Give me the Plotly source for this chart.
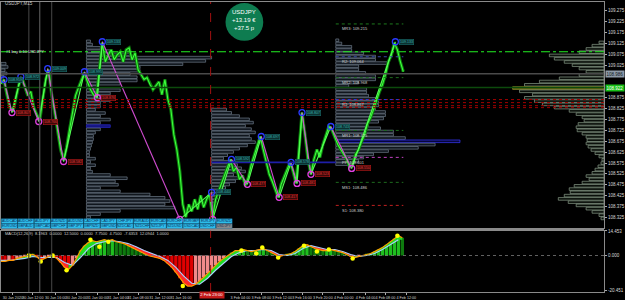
import plotly.graph_objects as go
import numpy as np

# ---------------- data ----------------
# price path (one value every 3 chart columns / bars)
price = [108.940, 108.959, 108.890, 108.830, 108.812, 108.876, 108.936, 108.968, 108.922, 108.885,
         108.904, 108.830, 108.798, 108.771, 108.867, 108.959, 109.004, 108.890, 108.812, 108.729,
         108.637, 108.587, 108.647, 108.729, 108.812, 108.885, 108.922, 108.959, 108.991, 108.949,
         108.913, 108.890, 108.876, 109.004, 109.128, 109.041, 109.073, 109.096, 109.050, 109.073,
         109.087, 109.041, 109.096, 109.105, 109.050, 109.082, 109.004, 108.982, 108.959, 108.968,
         108.936, 108.913, 108.931, 108.949, 108.890, 108.959, 108.867, 108.821, 108.706, 108.637,
         108.537, 108.385, 108.326, 108.385, 108.353, 108.408, 108.362, 108.426, 108.371, 108.408,
         108.431, 108.326, 108.408, 108.445, 108.477, 108.523, 108.555, 108.592, 108.537, 108.555,
         108.500, 108.518, 108.472, 108.509, 108.569, 108.615, 108.660, 108.697, 108.637, 108.582,
         108.523, 108.491, 108.454, 108.417, 108.477, 108.509, 108.546, 108.578, 108.537, 108.482,
         108.637, 108.807, 108.706, 108.592, 108.523, 108.592, 108.637, 108.601, 108.660, 108.706,
         108.743, 108.729, 108.692, 108.660, 108.637, 108.615, 108.592, 108.555, 108.569, 108.615,
         108.637, 108.674, 108.706, 108.757, 108.784, 108.821, 108.867, 108.904, 108.936, 108.982,
         109.041, 109.073, 109.128, 109.096, 109.041, 108.995]
price_bar = [3 * i for i in range(len(price))]

# zigzag swing points
zz_bar = [3, 11, 20, 38, 47, 63, 84, 97, 102, 180, 212, 213, 232, 248, 262, 280, 292, 298, 303, 312, 332, 353, 397]
zz_price = [108.959, 108.807, 108.972, 108.766, 109.009, 108.582, 108.995, 108.876, 109.133, 108.316,
            108.440, 108.316, 108.592, 108.477, 108.697, 108.417, 108.578, 108.481, 108.807, 108.523,
            108.743, 108.550, 109.133]

# volume profiles (level step in price, lengths in bars)
STEP = 0.015
prof1_x, prof1_top = 0, 109.032
prof1_len = [5, 7, 4, 6, 3]
prof2_x, prof2_top = 86, 109.135
prof2_len = [4, 6, 14, 24, 45, 126, 120, 97, 54, 54, 44, 51, 51, 34, 10, 34, 24, 24, 24, 14,
             14, 9, 19, 14, 24, 14, 24, 14, 9, 7, 7, 6, 5, 4, 3, 3, 9, 4, 9, 4,
             6, 24, 41, 29, 32, 14, 34, 64, 79, 84, 79, 89, 34, 14, 4]
prof3_x, prof3_top = 212, 108.821
prof3_len = [15, 20, 28, 38, 42, 34, 40, 44, 38, 40, 44, 36, 28, 22, 16, 12, 20, 26, 30, 34,
             22, 30, 24, 18, 14, 10, 8, 6, 5, 4, 3]
prof4_x, prof4_top = 337, 109.140
prof4_len = [3, 6, 16, 16, 28, 40, 40, 52, 23, 23, 30, 40, 40, 23, 13, 31, 31, 33, 40, 43,
             43, 40, 50, 50, 48, 43, 33, 45, 58, 58, 70, 125, 100, 83, 53, 38, 28, 23, 18]
profR_x, profR_top = 607, 109.130
profR_len = [5, 12, 18, 25, 55, 50, 40, 32, 25, 18, 25, 45, 65, 80, 92, 85, 72, 80, 70, 62,
             50, 35, 28, 22, 20, 26, 28, 27, 22, 18, 17, 18, 16, 13, 9, 5, 2, 3, 6, 9,
             12, 18, 15, 22, 30, 35, 34, 40, 46, 36, 28, 18, 12, 5, 3]

# pivot levels
piv_names = ["MR3", "R2", "MR2", "R1", "MR1", "PP", "MS1", "S1"]
piv_price = [109.215, 109.064, 108.968, 108.867, 108.725, 108.601, 108.486, 108.380]
piv_color = ["#1d7a1d", "#3a4aa8", "#1d6a1d", "#2a3ad0", "#1d6a1d", "#c040c0", "#1d6a1d", "#c02020"]

# MACD pane
macd = [-3.5, -3.5, -2.9, -2.9, -1.7, -1.2, -0.6, 0.0, 0.6, -0.6,
        -2.9, -1.7, -0.6, 0.0, -1.7, -4.1, -7.0, -8.1, -5.8, -1.7,
        2.9, 5.8, 7.6, 8.7, 8.1, 8.7, 9.3, 8.7, 9.3, 8.1,
        7.6, 7.0, 5.8, 4.7, 3.5, 2.3, 1.2, 0.0, -0.6, -1.2,
        -1.7, -2.9, -4.7, -7.0, -9.9, -13.4, -16.3, -18.0, -18.0, -16.9,
        -15.1, -12.8, -10.5, -8.1, -5.8, -3.5, -1.7, 0.0, 1.7, 2.9,
        2.9, 3.5, 2.9, 2.3, 2.9, 3.5, 4.1, 2.9, 1.7, 0.6,
        -0.6, 0.0, 0.6, 1.2, 2.3, 4.1, 5.8, 6.4, 5.2, 4.1,
        3.5, 2.9, 2.9, 3.5, 2.9, 2.3, 1.7, 0.6, -0.6, -1.2,
        -0.6, 0.0, 0.6, 1.2, 2.3, 3.5, 4.7, 6.4, 8.1, 9.9,
        11.6, 10.5]
macd_bar = [4 * i for i in range(len(macd))]
signal = [-2.9, -2.9, -2.3, -1.7, -0.6, -1.2, -1.2, -1.2, -4.1, -5.8,
          -1.2, 4.1, 7.0, 8.1, 8.7, 8.1, 7.0, 5.2, 2.9, 1.2,
          -0.6, -2.9, -7.0, -12.2, -16.3, -16.9, -13.4, -8.7, -4.7, -0.6,
          1.7, 2.9, 2.9, 3.5, 2.9, 0.6, 0.0, 1.2, 4.1, 5.8,
          4.7, 3.5, 3.5, 2.3, 0.6, -0.6, 0.0, 1.2, 3.5, 6.4,
          9.3]
signal_bar = [8 * i for i in range(len(signal))]
dot_bar = [28, 40, 52, 66, 90, 99, 108, 183, 242, 257, 263, 279, 305, 318, 330, 354, 399]
dot_val = [0.0, -3.5, 0.0, -8.7, 9.3, 5.2, 8.1, -18.0, 2.9, 1.2, 4.7, -1.2, 5.8, 2.3, 3.5, -1.7, 11.6]

# 108.975 and 108.925 sit under the price boxes on the axis
price_ticks = [109.275, 109.225, 109.175, 109.125, 109.075, 109.025, 108.875, 108.825,
               108.775, 108.725, 108.675, 108.625, 108.575, 108.525, 108.475, 108.425, 108.375, 108.325]
macd_ticks = [14.453, 0.0, -20.451]
macd_ticktext = ["14.453", "0.000", "-20.451"]
time_ticks = [12, 32, 55, 76, 97, 118, 138, 160, 181, 241, 262, 283, 303, 324, 345, 367, 387, 408]
time_labels = ["30 Jan 2020", "30 Jan 12:00", "30 Jan 16:00", "30 Jan 20:00", "31 Jan 00:00",
               "31 Jan 04:00", "31 Jan 08:00", "31 Jan 12:00", "31 Jan 16:00",
               "3 Feb 04:00", "3 Feb 08:00", "3 Feb 12:00", "3 Feb 16:00", "3 Feb 20:00",
               "4 Feb 00:00", "4 Feb 04:00", "4 Feb 08:00", "4 Feb 12:00"]
pairs = ["AUDCAD", "AUDCHF", "AUDJPY", "AUDNZD", "AUDUSD", "CADCHF", "CADJPY", "CHFJPY", "EURAUD",
         "EURCAD", "EURCHF", "EURGBP", "EURJPY", "EURNZD", "EURUSD", "GBPAUD", "GBPCAD", "GBPCHF",
         "GBPJPY", "GBPNZD", "GBPUSD", "NZDCAD", "NZDCHF", "NZDJPY", "NZDUSD", "USDCAD", "USDCHF", "USDJPY"]

# ---------------- geometry ----------------
W, H = 625, 300
MR, MT, MB = 18, 2, 7
PW = W - MR
PH = H - MT - MB
FONT = "Liberation Sans"


def pxx(px):
    return px / PW


def pxy(py):
    return (H - MB - py) / PH


fig = go.Figure()


def add_profile(x0, top, lengths, fill, line, right=False, poc=None, poc_fill=None, poc_line=None):
    levels = [top - i * STEP for i in range(len(lengths))]
    base = [x0 - L for L in lengths] if right else [x0] * len(lengths)
    fills = [fill] * len(lengths)
    lines = [line] * len(lengths)
    if poc is not None:
        fills[poc] = poc_fill
        lines[poc] = poc_line
    fig.add_trace(go.Bar(orientation="h", y=levels, x=lengths, base=base, width=STEP * 0.8,
                         marker=dict(color=fills, line=dict(color=lines, width=0.7)),
                         xaxis="x", yaxis="y", hoverinfo="skip"))


add_profile(prof1_x, prof1_top, prof1_len, "#10161d", "#6d7a88")
add_profile(prof2_x, prof2_top, prof2_len, "#10161d", "#6d7a88", poc=26, poc_fill="#14147a", poc_line="#2a2ad0")
add_profile(prof3_x, prof3_top, prof3_len, "#10161d", "#6d7a88")
add_profile(prof4_x, prof4_top, prof4_len, "#10161d", "#6d7a88", poc=31, poc_fill="#06063a", poc_line="#3a3aff")
add_profile(profR_x, profR_top, profR_len, "#0b100b", "#8a9c8a", right=True, poc=14,
            poc_fill="#5e5e0c", poc_line="#a0a030")

# price
fig.add_trace(go.Scatter(x=price_bar, y=price, mode="lines", line=dict(color="#0d7a0d", width=3.2),
                         xaxis="x", yaxis="y", hoverinfo="skip"))
fig.add_trace(go.Scatter(x=price_bar, y=price, mode="lines", line=dict(color="#3cff3c", width=1.1),
                         xaxis="x", yaxis="y", hoverinfo="skip"))

# zigzag legs
for i in range(len(zz_bar) - 1):
    up = zz_price[i + 1] > zz_price[i]
    fig.add_trace(go.Scatter(x=zz_bar[i:i + 2], y=zz_price[i:i + 2], mode="lines",
                             line=dict(color="#55ff55" if up else "#d04cd0", width=1.1),
                             xaxis="x", yaxis="y", hoverinfo="skip"))
is_high = []
for i, p in enumerate(zz_price):
    nb = [zz_price[j] for j in (i - 1, i + 1) if 0 <= j < len(zz_price)]
    is_high.append(p > np.mean(nb))
hx = [b for b, h in zip(zz_bar, is_high) if h]
hy = [p for p, h in zip(zz_price, is_high) if h]
lx = [b for b, h in zip(zz_bar, is_high) if not h]
ly = [p for p, h in zip(zz_price, is_high) if not h]
fig.add_trace(go.Scatter(x=hx, y=hy, mode="markers", marker=dict(symbol="circle-open", size=6,
                         color="#2a3aff", line=dict(width=1.3)), xaxis="x", yaxis="y", hoverinfo="skip"))
fig.add_trace(go.Scatter(x=lx, y=ly, mode="markers", marker=dict(symbol="circle-open", size=6,
                         color="#e040e0", line=dict(width=1.3)), xaxis="x", yaxis="y", hoverinfo="skip"))

annotations = []
for b, p, h in zip(zz_bar, zz_price, is_high):
    if p < 108.34:  # swing lows hidden behind the symbol buttons carry no tag
        continue
    annotations.append(dict(x=b + 4, y=p, xref="x", yref="y", text=f"{p:.3f}", showarrow=False,
                            xanchor="left", yanchor="middle",
                            font=dict(size=3.6, color="#3ab0b0" if h else "#e03a3a", family=FONT),
                            bgcolor="#0b3030" if h else "#3a0808",
                            bordercolor="#1a6a6a" if h else "#b01818", borderwidth=0.6, borderpad=0.3))

# MACD histogram
colors = []
for i, v in enumerate(macd):
    prev = macd[i - 1] if i > 0 else v
    if v >= 0:
        colors.append("#1fbf1f" if v >= prev else "#0e7a0e")
    else:
        colors.append("#e00000" if v <= prev else "#f08a8a")
fig.add_trace(go.Bar(x=macd_bar, y=macd, width=3.4, marker=dict(color=colors, line=dict(width=0)),
                     xaxis="x2", yaxis="y2", hoverinfo="skip"))

# cloud between main and signal
sig_i = np.interp(macd_bar, signal_bar, signal)
m = np.array(macd)
sgn = m >= sig_i
start = 0
for i in range(1, len(m) + 1):
    if i == len(m) or sgn[i] != sgn[start]:
        seg = list(range(max(start - 1, 0), i))
        xs = [macd_bar[k] for k in seg]
        poly_x = xs + xs[::-1]
        poly_y = [m[k] for k in seg] + [sig_i[k] for k in seg][::-1]
        fig.add_trace(go.Scatter(x=poly_x, y=poly_y, mode="lines", fill="toself",
                                 fillcolor="#22dd22" if sgn[start] else "#ff2a2a", line=dict(width=0),
                                 xaxis="x2", yaxis="y2", hoverinfo="skip"))
        start = i

fig.add_trace(go.Scatter(x=signal_bar, y=signal, mode="lines", line=dict(color="#a8d0ff", width=1.1),
                         xaxis="x2", yaxis="y2", hoverinfo="skip"))
fig.add_trace(go.Scatter(x=macd_bar, y=macd, mode="lines", line=dict(color="#ff9a00", width=1.2),
                         xaxis="x2", yaxis="y2", hoverinfo="skip"))
fig.add_trace(go.Scatter(x=dot_bar, y=dot_val, mode="markers", marker=dict(color="#ffff00", size=4.5),
                         xaxis="x2", yaxis="y2", hoverinfo="skip"))

# ---------------- shapes ----------------
shapes = []
# full-width level lines
shapes.append(dict(type="line", xref="x", yref="y", x0=0, x1=607, y0=109.087, y1=109.087,
                   line=dict(color="#22ee22", width=1.2, dash="dashdot")))
shapes.append(dict(type="line", xref="x", yref="y", x0=0, x1=607, y0=108.986, y1=108.986,
                   line=dict(color="#4a4a4a", width=1.5)))
shapes.append(dict(type="line", xref="x", yref="y", x0=0, x1=607, y0=108.922, y1=108.922,
                   line=dict(color="#0c4a0c", width=1.5)))
for lv in [108.867, 108.853, 108.839, 108.830]:
    shapes.append(dict(type="line", xref="x", yref="y", x0=0, x1=607, y0=lv, y1=lv,
                       line=dict(color="#a00000", width=1, dash="dot")))
shapes.append(dict(type="line", xref="x", yref="y", x0=212, x1=337, y0=108.578, y1=108.578,
                   line=dict(color="#1e1ea8", width=1.6)))
# pivots
for nm, pv, col in zip(piv_names, piv_price, piv_color):
    shapes.append(dict(type="line", xref="x", yref="y", x0=337, x1=405, y0=pv, y1=pv,
                       line=dict(color=col, width=1, dash="dot")))
    annotations.append(dict(x=341, y=pv, xref="x", yref="y", text=f"{nm}: {pv:.3f}", showarrow=False,
                            xanchor="left", yanchor="top", yshift=-0.5,
                            font=dict(size=4, color="#d0d0d0", family=FONT)))
# vertical lines
for vx, vc in [(28, "#3c3c3c"), (39, "#555555"), (51, "#3c3c3c")]:
    shapes.append(dict(type="line", xref="x", yref="paper", x0=vx, x1=vx, y0=0, y1=1,
                       line=dict(color=vc, width=1.2)))
shapes.append(dict(type="line", xref="x", yref="paper", x0=211, x1=211, y0=0, y1=1,
                   line=dict(color="#a01010", width=1, dash="dash")))
# MACD zero line
shapes.append(dict(type="line", xref="x2", yref="y2", x0=0, x1=607, y0=0, y1=0,
                   line=dict(color="#7a7a7a", width=0.8, dash="dot")))
# pane separator
shapes.append(dict(type="line", xref="paper", yref="paper", x0=0, x1=1, y0=pxy(230.5), y1=pxy(230.5),
                   line=dict(color="#8a8a8a", width=2)))
# profit circle
shapes.append(dict(type="circle", xref="paper", yref="paper", x0=pxx(226), x1=pxx(264),
                   y0=pxy(41), y1=pxy(3), fillcolor="#0e7c50", line=dict(width=0)))
for t, yy in [("USDJPY", 12), ("+13.19 €", 20), ("+37.5 p", 28)]:
    annotations.append(dict(x=pxx(245), y=pxy(yy), xref="paper", yref="paper", text=t, showarrow=False,
                            xanchor="center", yanchor="middle", font=dict(size=6, color="white", family=FONT)))
# symbol buttons
bw = 233 / 14
for k, pr in enumerate(pairs):
    row, col = divmod(k, 14)
    x0 = col * bw
    y0 = 219.5 + row * 5
    last = k == len(pairs) - 1
    shapes.append(dict(type="rect", xref="paper", yref="paper", x0=pxx(x0 + 0.3), x1=pxx(x0 + bw - 0.3),
                       y0=pxy(y0 + 4.7), y1=pxy(y0), fillcolor="#8c8c8c" if last else "#2ec0ee",
                       line=dict(color="#1a6a9a", width=0.4)))
    annotations.append(dict(x=pxx(x0 + bw / 2), y=pxy(y0 + 2.4), xref="paper", yref="paper", text=pr,
                            showarrow=False, xanchor="center", yanchor="middle",
                            font=dict(size=3.5, color="#0a2a55", family=FONT)))

# texts
annotations.append(dict(x=pxx(2), y=pxy(4), xref="paper", yref="paper", text="USDJPY,M15", showarrow=False,
                        xanchor="left", yanchor="middle", font=dict(size=4.5, color="#c8c8c8", family=FONT)))
annotations.append(dict(x=pxx(3), y=109.087, xref="paper", yref="y", text="#1 buy 0.10 USDJPY", showarrow=False,
                        xanchor="left", yanchor="middle", font=dict(size=4, color="#e0e0e0", family=FONT)))
annotations.append(dict(x=pxx(2), y=pxy(234.5), xref="paper", yref="paper",
                        text="MACD(12,26,9)  8.1963  0.0000  12.5000  0.0000  7.7500  4.7500  -7.6353  12.0944  1.0000",
                        showarrow=False, xanchor="left", yanchor="middle",
                        font=dict(size=4, color="#d0d0d0", family=FONT)))
# price boxes on right axis
for pv, bg, fc in [(108.986, "#8d9aa8", "#101820"), (108.922, "#18c018", "#ffffff")]:
    annotations.append(dict(x=1.0, y=pv, xref="paper", yref="y", text=f"{pv:.3f}", showarrow=False,
                            xanchor="left", yanchor="middle", xshift=1,
                            font=dict(size=4.5, color=fc, family=FONT), bgcolor=bg, borderpad=0.5))
# red time box
annotations.append(dict(x=212, y=pxy(296.5), xref="x2", yref="paper", text="2 Feb 23:00", showarrow=False,
                        xanchor="center", yanchor="middle", font=dict(size=4.2, color="white", family=FONT),
                        bgcolor="#c41a1a", borderpad=0.3))

axis_common = dict(showgrid=False, zeroline=False, showline=True, mirror=True, linecolor="#8a8a8a", linewidth=1)
fig.update_layout(
    width=W, height=H, margin=dict(l=0, r=MR, t=MT, b=MB),
    paper_bgcolor="black", plot_bgcolor="black", showlegend=False, barmode="overlay",
    hovermode=False, font=dict(family=FONT),
    xaxis=dict(domain=[0, 1], range=[0, 607], anchor="y", showticklabels=False, ticks="", **axis_common),
    yaxis=dict(domain=[pxy(229), 1], range=[108.275, 109.316], side="right", anchor="x",
               tickvals=price_ticks, ticktext=[f"{v:.3f}" for v in price_ticks],
               tickfont=dict(size=4.5, color="#d8d8d8"), ticks="outside", ticklen=2, tickcolor="#aaaaaa",
               **axis_common),
    xaxis2=dict(domain=[0, 1], range=[0, 607], anchor="y2", matches="x", tickvals=time_ticks,
                ticktext=time_labels, tickfont=dict(size=3.7, color="#d0d0d0"), ticks="outside",
                ticklen=2, tickcolor="#aaaaaa", tickangle=0, **axis_common),
    yaxis2=dict(domain=[0, pxy(231.5)], range=[-21.5, 14.6], side="right", anchor="x2",
                tickvals=macd_ticks, ticktext=macd_ticktext, tickfont=dict(size=4.5, color="#d8d8d8"),
                ticks="outside", ticklen=2, tickcolor="#aaaaaa", **axis_common),
    shapes=shapes, annotations=annotations,
)
fig.write_html("out.html")
